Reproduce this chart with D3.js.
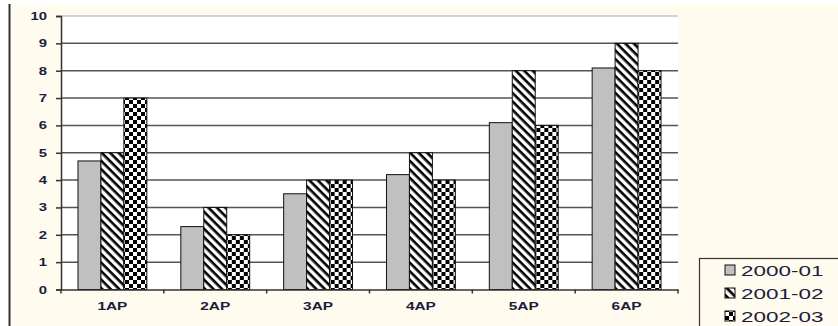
<!DOCTYPE html>
<html>
<head>
<meta charset="utf-8">
<script src="https://cdn.jsdelivr.net/npm/d3@7"></script>
<style>
  body { margin: 0; background: #fff; }
  text { font-family: "Liberation Sans", Arial, sans-serif; fill: #1c1c3c; }
</style>
</head>
<body>
<div class="root"></div>
<script>
var categories = ["1AP", "2AP", "3AP", "4AP", "5AP", "6AP"];
var seriesNames = ["2000-01", "2001-02", "2002-03"];
var values2000 = [4.7, 2.3, 3.5, 4.2, 6.1, 8.1];
var values2001 = [5, 3, 4, 5, 8, 9];
var values2002 = [7, 2, 4, 4, 6, 8];
var yTicks = [0, 1, 2, 3, 4, 5, 6, 7, 8, 9, 10];

var width = 838, height = 326;
var allValues = [values2000, values2001, values2002];
var fills = ["#c0c0c0", "url(#hatch)", "url(#checker)"];

var svg = d3.select(".root").append("svg")
  .attr("width", width)
  .attr("height", height);

var defs = svg.append("defs");
var hatch = defs.append("pattern")
  .attr("id", "hatch")
  .attr("patternUnits", "userSpaceOnUse")
  .attr("width", 6).attr("height", 6)
  .attr("patternTransform", "rotate(45)");
hatch.append("rect").attr("width", 6).attr("height", 6).attr("fill", "#fff");
hatch.append("rect").attr("width", 6).attr("height", 2.6).attr("fill", "#000");

var checker = defs.append("pattern")
  .attr("id", "checker")
  .attr("patternUnits", "userSpaceOnUse")
  .attr("width", 8).attr("height", 8);
checker.append("rect").attr("width", 8).attr("height", 8).attr("fill", "#fff");
checker.append("rect").attr("width", 4).attr("height", 4).attr("fill", "#000");
checker.append("rect").attr("x", 4).attr("y", 4).attr("width", 4).attr("height", 4).attr("fill", "#000");

// page background
svg.append("rect").attr("x", 10).attr("y", 5).attr("width", width).attr("height", height)
  .attr("fill", "#fffbef");
svg.append("line").attr("x1", 9.5).attr("x2", 9.5).attr("y1", 4).attr("y2", height)
  .attr("stroke", "#333").attr("stroke-width", 2);

var x0 = d3.scaleBand().domain(categories).range([61, 678]);
var x1 = d3.scaleBand().domain(seriesNames).range([0, x0.bandwidth()]).paddingOuter(0.74);
var y = d3.scaleLinear().domain([0, 10]).range([289.5, 16]);

// plot area
svg.append("rect")
  .attr("x", x0.range()[0]).attr("y", y(10))
  .attr("width", x0.range()[1] - x0.range()[0]).attr("height", y(0) - y(10))
  .attr("fill", "#fff");

svg.append("g").selectAll("line")
  .data(yTicks.filter(function (d) { return d > 0; }))
  .enter().append("line")
  .attr("x1", 61).attr("x2", 678)
  .attr("y1", function (d) { return y(d); })
  .attr("y2", function (d) { return y(d); })
  .attr("stroke", function (d) { return d === 10 ? "#c4c4c4" : "#555"; })
  .attr("stroke-width", 1.5);

// bars
var groups = svg.append("g").selectAll("g")
  .data(categories)
  .enter().append("g")
  .attr("transform", function (d) { return "translate(" + x0(d) + ",0)"; });

groups.selectAll("rect")
  .data(function (d, i) {
    return seriesNames.map(function (s, j) { return { s: s, v: allValues[j][i], j: j }; });
  })
  .enter().append("rect")
  .attr("x", function (d) { return x1(d.s); })
  .attr("y", function (d) { return y(d.v); })
  .attr("width", x1.bandwidth())
  .attr("height", function (d) { return y(0) - y(d.v); })
  .attr("fill", function (d) { return fills[d.j]; })
  .attr("stroke", "#111")
  .attr("stroke-width", 1);

// axes
var yAxis = svg.append("g")
  .attr("transform", "translate(61,0)")
  .call(d3.axisLeft(y).tickValues(yTicks).tickSize(5).tickFormat(""));
yAxis.select(".domain").attr("stroke", "#333").attr("stroke-width", 1.5);
yAxis.selectAll(".tick line").attr("stroke", "#333").attr("stroke-width", 1.5);

svg.append("g").selectAll("text")
  .data(yTicks)
  .enter().append("text")
  .attr("transform", function (d) { return "translate(47," + (y(d) + 4) + ") scale(1.35,1)"; })
  .attr("text-anchor", "end")
  .style("font-size", "11px").style("font-weight", "bold")
  .text(function (d) { return d; });

var xAxis = svg.append("g")
  .attr("transform", "translate(0," + y(0) + ")")
  .call(d3.axisBottom(x0).tickSize(0).tickFormat(""));
xAxis.select(".domain").attr("stroke", "#333").attr("stroke-width", 1.5);

svg.append("g").selectAll("line")
  .data(categories)
  .enter().append("line")
  .attr("x1", function (d) { return x0(d); })
  .attr("x2", function (d) { return x0(d); })
  .attr("y1", y(0)).attr("y2", y(0) + 4)
  .attr("stroke", "#333").attr("stroke-width", 1.5);
svg.append("line").attr("x1", 678).attr("x2", 678).attr("y1", y(0)).attr("y2", y(0) + 4)
  .attr("stroke", "#333").attr("stroke-width", 1.5);

svg.append("g").selectAll("text")
  .data(categories)
  .enter().append("text")
  .attr("transform", function (d) {
    return "translate(" + (x0(d) + x0.bandwidth() / 2) + ",310) scale(1.4,1)";
  })
  .attr("text-anchor", "middle")
  .style("font-size", "11px").style("font-weight", "bold")
  .text(function (d) { return d; });

// legend
var legend = svg.append("g");
legend.append("rect")
  .attr("x", 699.5).attr("y", 258.5).attr("width", 160).attr("height", 90)
  .attr("fill", "#fffbef").attr("stroke", "#333").attr("stroke-width", 1.2);
var items = legend.selectAll("g.item")
  .data(seriesNames)
  .enter().append("g")
  .attr("class", "item")
  .attr("transform", function (d, i) { return "translate(725," + (270 + i * 23) + ")"; });
items.append("rect")
  .attr("x", 0).attr("y", -5).attr("width", 10).attr("height", 10)
  .attr("fill", function (d, i) { return fills[i]; })
  .attr("stroke", "#111").attr("stroke-width", 1);
items.append("text")
  .attr("transform", "translate(16,6) scale(1.45,1)")
  .style("font-size", "15.5px")
  .text(function (d) { return d; });
</script>
</body>
</html>
